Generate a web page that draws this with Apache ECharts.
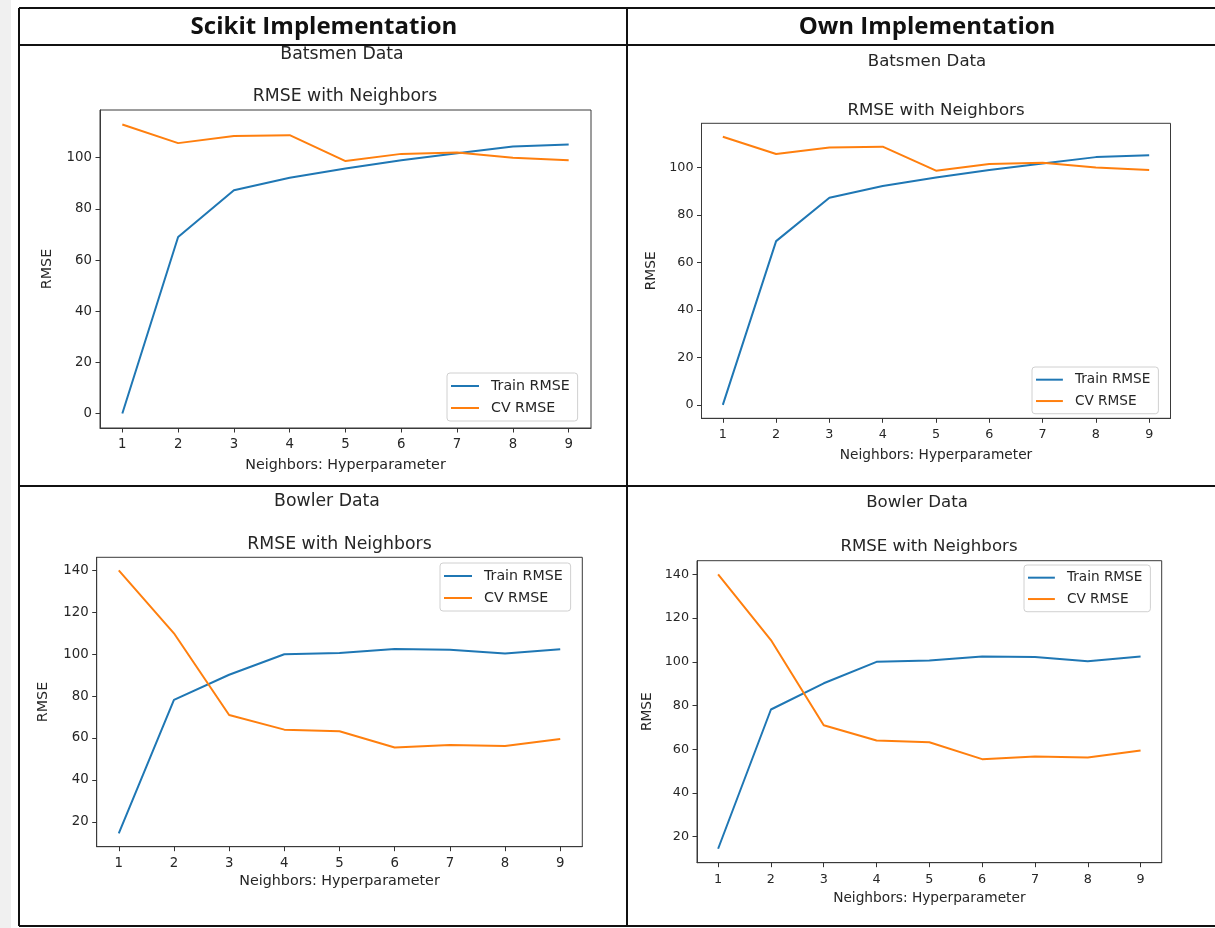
<!DOCTYPE html>
<html>
<head>
<meta charset="utf-8">
<script src="https://cdn.jsdelivr.net/npm/echarts@6/dist/echarts.min.js"></script>
<style>
html,body{margin:0;padding:0;background:#fff;}
#chart{width:1215px;height:928px;}
</style>
</head>
<body>
<div id="chart"></div>
<script>
// ---- data ----
const neighbors = [1, 2, 3, 4, 5, 6, 7, 8, 9];
const batsmenTrain = [0, 69, 87.3, 92.2, 95.8, 99, 101.7, 104.4, 105.2];
const batsmenCV = [113, 105.7, 108.5, 108.8, 98.7, 101.5, 102, 100, 99];
const bowlerTrain = [14.5, 78.2, 90.2, 100, 100.6, 102.5, 102.2, 100.3, 102.4];
const bowlerCV = [140, 110, 71, 64, 63.2, 55.5, 56.7, 56.2, 59.5];
const batsmenTicks = [0, 20, 40, 60, 80, 100];
const bowlerTicks = [20, 40, 60, 80, 100, 120, 140];
const headers = ['Scikit Implementation', 'Own Implementation'];
const suptitles = ['Batsmen Data', 'Bowler Data'];
const plotTitle = 'RMSE with Neighbors';
const seriesNames = ['Train RMSE', 'CV RMSE'];
const xName = 'Neighbors: Hyperparameter';
const yName = 'RMSE';

const pairs = (vals) => neighbors.map((n, i) => [n, vals[i]]);
const FONT = '"DejaVu Sans", sans-serif';
const TXT = '#262626';
const COLORS = ['#1f77b4', '#ff7f0e'];

// panel layout: grid rect, y extent, ticks, legend pos, titles, text scale
const panels = [
  {grid: {left: 100, top: 110, width: 491, height: 318}, ymin: -5.65, ymax: 118.65, ticks: batsmenTicks, s: 1,
   train: batsmenTrain, cv: batsmenCV, legend: {left: 447, top: 373}, sup: {x: 342, y: 55, t: 0}, title: {x: 345, y: 97},
   xGap: 30, yGap: 46},
  {grid: {left: 701.5, top: 123.3, width: 469, height: 295}, ymin: -5.65, ymax: 118.65, ticks: batsmenTicks, s: 0.96,
   train: batsmenTrain, cv: batsmenCV, legend: {left: 1032, top: 367}, sup: {x: 927, y: 62, t: 0}, title: {x: 936, y: 111},
   xGap: 30, yGap: 43},
  {grid: {left: 96.7, top: 557.3, width: 485.6, height: 289.4}, ymin: 8.12, ymax: 146.28, ticks: bowlerTicks, s: 1,
   train: bowlerTrain, cv: bowlerCV, legend: {left: 440, top: 563}, sup: {x: 327, y: 502, t: 1}, title: {x: 339.5, y: 545},
   xGap: 28, yGap: 46},
  {grid: {left: 697, top: 560.7, width: 464.7, height: 302}, ymin: 8.12, ymax: 146.28, ticks: bowlerTicks, s: 0.96,
   train: bowlerTrain, cv: bowlerCV, legend: {left: 1024, top: 565}, sup: {x: 917, y: 503, t: 1}, title: {x: 929, y: 547},
   xGap: 28.5, yGap: 43}
];

const grids = [], xAxes = [], yAxes = [], series = [], legends = [], titles = [];

const headerStyle = {fontFamily: '"Open Sans", sans-serif', fontWeight: 'bold', fontSize: 24, color: '#111'};
titles.push({text: headers[0], left: 324, top: 27, textAlign: 'center', textVerticalAlign: 'middle', padding: 0, textStyle: headerStyle});
titles.push({text: headers[1], left: 927, top: 27, textAlign: 'center', textVerticalAlign: 'middle', padding: 0, textStyle: headerStyle});

panels.forEach((p, i) => {
  const labelSize = 14.3 * p.s, tickSize = 13.3 * p.s, titleSize = 17.3 * p.s, legendSize = 14.2 * p.s;
  grids.push(Object.assign({show: true, borderColor: '#3a3a3a', borderWidth: 1, backgroundColor: '#fff', containLabel: false}, p.grid));
  xAxes.push({
    type: 'value', gridIndex: i, min: 0.6, max: 9.4, position: 'bottom',
    name: xName, nameLocation: 'middle', nameGap: p.xGap,
    nameTextStyle: {fontFamily: FONT, fontSize: labelSize, color: TXT},
    axisLine: {show: true, onZero: false, lineStyle: {color: '#3a3a3a', width: 1}},
    axisTick: {show: true, inside: false, length: 4.5, customValues: neighbors, lineStyle: {color: '#333', width: 1}},
    axisLabel: {show: true, customValues: neighbors, margin: 10, fontFamily: FONT, fontSize: tickSize, color: TXT},
    splitLine: {show: false}
  });
  yAxes.push({
    type: 'value', gridIndex: i, min: p.ymin, max: p.ymax, position: 'left',
    name: yName, nameLocation: 'middle', nameGap: p.yGap, nameRotate: 90,
    nameTextStyle: {fontFamily: FONT, fontSize: labelSize, color: TXT},
    axisLine: {show: true, onZero: false, lineStyle: {color: '#3a3a3a', width: 1}},
    axisTick: {show: true, inside: false, length: 4.5, customValues: p.ticks, lineStyle: {color: '#333', width: 1}},
    axisLabel: {show: true, customValues: p.ticks, margin: 8, fontFamily: FONT, fontSize: tickSize, color: TXT},
    splitLine: {show: false}
  });
  series.push({
    name: seriesNames[0], type: 'line', xAxisIndex: i, yAxisIndex: i, data: pairs(p.train),
    showSymbol: false, symbol: 'none', lineStyle: {width: 2, color: COLORS[0]}, itemStyle: {color: COLORS[0]}, animation: false
  });
  series.push({
    name: seriesNames[1], type: 'line', xAxisIndex: i, yAxisIndex: i, data: pairs(p.cv),
    showSymbol: false, symbol: 'none', lineStyle: {width: 2, color: COLORS[1]}, itemStyle: {color: COLORS[1]}, animation: false
  });
  legends.push({
    data: seriesNames, orient: 'vertical', left: p.legend.left, top: p.legend.top,
    icon: 'rect', itemWidth: 28 * p.s, itemHeight: 2, itemGap: 6,
    padding: [5, 8, 5, 4], borderColor: '#d0d0d0', borderWidth: 1, borderRadius: 3,
    backgroundColor: 'rgba(255,255,255,0.85)', selectedMode: false,
    textStyle: {fontFamily: FONT, fontSize: legendSize, color: TXT, lineHeight: 16 * p.s, padding: [0, 0, 0, 7]}
  });
  titles.push({text: suptitles[p.sup.t], left: p.sup.x, top: p.sup.y, textAlign: 'center', textVerticalAlign: 'middle', padding: 0,
    textStyle: {fontFamily: FONT, fontSize: titleSize, fontWeight: 'normal', color: TXT}});
  titles.push({text: plotTitle, left: p.title.x, top: p.title.y, textAlign: 'center', textVerticalAlign: 'middle', padding: 0,
    textStyle: {fontFamily: FONT, fontSize: titleSize, fontWeight: 'normal', color: TXT}});
});

const lineStyle = {stroke: '#111', lineWidth: 2};
const graphic = [
  {type: 'rect', shape: {x: 0, y: 0, width: 11, height: 928}, style: {fill: '#f0f0f0'}, z: -10},
  {type: 'line', shape: {x1: 19, y1: 8, x2: 1215, y2: 8}, style: lineStyle},
  {type: 'line', shape: {x1: 19, y1: 45, x2: 1215, y2: 45}, style: lineStyle},
  {type: 'line', shape: {x1: 19, y1: 486, x2: 1215, y2: 486}, style: lineStyle},
  {type: 'line', shape: {x1: 19, y1: 926, x2: 1215, y2: 926}, style: lineStyle},
  {type: 'line', shape: {x1: 19, y1: 8, x2: 19, y2: 926}, style: lineStyle},
  {type: 'line', shape: {x1: 627, y1: 8, x2: 627, y2: 926}, style: lineStyle}
];

const chart = echarts.init(document.getElementById('chart'), null, {renderer: 'canvas'});
chart.setOption({
  animation: false,
  backgroundColor: '#fff',
  title: titles,
  grid: grids,
  xAxis: xAxes,
  yAxis: yAxes,
  legend: legends,
  series: series,
  graphic: graphic
});
</script>
</body>
</html>
